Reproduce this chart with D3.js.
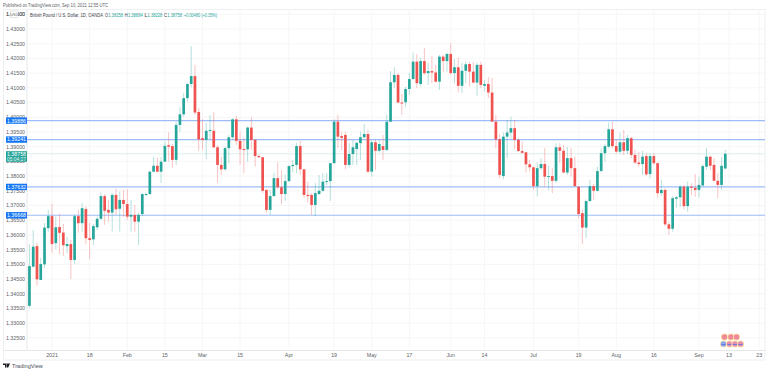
<!DOCTYPE html>
<html><head><meta charset="utf-8">
<script src="https://cdn.jsdelivr.net/npm/d3@7/dist/d3.min.js"></script>
<style>html,body{margin:0;padding:0;background:#fff}svg{display:block}text{font-family:"Liberation Sans",Arial,sans-serif}</style>
</head><body><svg id="c" width="768" height="372"></svg>
<script>
const opens=[1.3460,1.3359,1.3492,1.3562,1.3447,1.3500,1.3623,
1.3664,1.3572,1.3627,1.3608,1.3562,1.3569,1.3515,1.3664,1.3640,1.3688,
1.3589,1.3585,1.3626,1.3655,1.3732,1.3685,1.3676,1.3736,1.3689,1.3719,
1.3705,1.3662,1.3668,1.3645,1.3671,1.3736,1.3739,1.3815,1.3835,1.3815,
1.3849,1.3905,1.3902,1.3855,1.3974,1.4010,1.4065,1.4113,1.4140,1.4018,
1.3929,1.3923,1.3955,1.3954,1.3898,1.3838,1.3823,1.3895,1.3932,1.3993,
1.3920,1.3892,1.3891,1.3965,1.3923,1.3868,1.3864,1.3753,1.3685,1.3732,
1.3793,1.3762,1.3739,1.3783,1.3834,1.3838,1.3902,1.3823,1.3736,1.3736,
1.3702,1.3739,1.3750,1.3780,1.3783,1.3844,1.3985,1.3936,1.3940,1.3838,
1.3875,1.3892,1.3912,1.3932,1.3943,1.3815,1.3915,1.3886,1.3902,1.3889,
1.3985,1.4119,1.4144,1.4050,1.4051,1.4096,1.4130,1.4189,1.4113,1.4191,
1.4150,1.4157,1.4152,1.4121,1.4206,1.4191,1.4215,1.4150,1.4170,1.4107,
1.4158,1.4181,1.4155,1.4118,1.4178,1.4107,1.4113,1.4084,1.3985,1.3925,
1.3800,1.3934,1.3948,1.3963,1.3923,1.3885,1.3881,1.3840,1.3830,1.3766,
1.3827,1.3841,1.3798,1.3800,1.3784,1.3898,1.3886,1.3812,1.3861,1.3827,
1.3764,1.3674,1.3625,1.3715,1.3766,1.3750,1.3817,1.3878,1.3900,1.3959,
1.3902,1.3883,1.3915,1.3886,1.3929,1.3872,1.3846,1.3841,1.3868,1.3807,
1.3868,1.3844,1.3742,1.3753,1.3636,1.3621,1.3723,1.3728,1.3764,1.3698,
1.3764,1.3760,1.3753,1.3768,1.3832,1.3866,1.3838,1.3784,1.3770,1.38258];
const highs=[1.3460,1.3569,1.3617,1.3573,1.3522,1.3641,1.3685,
1.3705,1.3662,1.3671,1.3637,1.3594,1.3583,1.3671,1.3685,1.3709,1.3698,
1.3641,1.3637,1.3662,1.3744,1.3739,1.3719,1.3743,1.3757,1.3748,1.3753,
1.3755,1.3719,1.3702,1.3675,1.3743,1.3745,1.3818,1.3866,1.3862,1.3865,
1.3917,1.3948,1.3909,1.3984,1.4034,1.4083,1.4118,1.4242,1.4178,1.4032,
1.3994,1.3981,1.4007,1.4017,1.3906,1.3866,1.3900,1.3940,1.3997,1.4004,
1.3951,1.3930,1.3968,1.4000,1.3926,1.3874,1.3866,1.3755,1.3753,1.3812,
1.3847,1.3821,1.3804,1.3838,1.3855,1.3912,1.3920,1.3824,1.3781,1.3741,
1.3776,1.3804,1.3810,1.3810,1.3845,1.3993,1.4008,1.3951,1.3951,1.3913,
1.3923,1.3917,1.3951,1.3977,1.3957,1.3923,1.3923,1.3923,1.3940,1.4008,
1.4157,1.4170,1.4150,1.4079,1.4104,1.4151,1.4220,1.4215,1.4202,1.4235,
1.4185,1.4208,1.4178,1.4212,1.4212,1.4220,1.4252,1.4198,1.4203,1.4185,
1.4188,1.4188,1.4187,1.4184,1.4189,1.4127,1.4136,1.4133,1.4008,1.3943,
1.3948,1.3991,1.4002,1.3991,1.3929,1.3917,1.3883,1.3855,1.3832,1.3846,
1.3861,1.3895,1.3834,1.3827,1.3912,1.3912,1.3906,1.3900,1.3895,1.3866,
1.3766,1.3687,1.3721,1.3787,1.3773,1.3832,1.3895,1.3909,1.3982,1.3985,
1.3925,1.3948,1.3957,1.3940,1.3934,1.3889,1.3883,1.3886,1.3878,1.3878,
1.3878,1.3846,1.3787,1.3759,1.3645,1.3732,1.3732,1.3770,1.3770,1.3781,
1.3776,1.3807,1.3798,1.3841,1.3895,1.3868,1.3861,1.3810,1.3865,1.38884];
const lows=[1.3359,1.3353,1.3491,1.3427,1.3447,1.3488,1.3611,
1.3540,1.3552,1.3535,1.3529,1.3539,1.3450,1.3501,1.3607,1.3611,1.3569,
1.3517,1.3566,1.3617,1.3651,1.3634,1.3645,1.3611,1.3668,1.3611,1.3662,
1.3651,1.3611,1.3611,1.3566,1.3664,1.3732,1.3736,1.3814,1.3814,1.3777,
1.3849,1.3849,1.3829,1.3838,1.3951,1.4002,1.4053,1.4102,1.4008,1.3886,
1.3889,1.3858,1.3923,1.3895,1.3778,1.3804,1.3818,1.3844,1.3923,1.3906,
1.3838,1.3810,1.3849,1.3889,1.3832,1.3862,1.3742,1.3674,1.3668,1.3731,
1.3755,1.3705,1.3716,1.3781,1.3812,1.3810,1.3804,1.3725,1.3710,1.3668,
1.3664,1.3736,1.3746,1.3770,1.3716,1.3842,1.3895,1.3889,1.3823,1.3828,
1.3838,1.3838,1.3855,1.3930,1.3811,1.3798,1.3821,1.3880,1.3855,1.3885,
1.3984,1.4099,1.4049,1.4008,1.4036,1.4076,1.4127,1.4099,1.4104,1.4144,
1.4110,1.4116,1.4118,1.4093,1.4155,1.4155,1.4146,1.4116,1.4085,1.4082,
1.4116,1.4104,1.4116,1.4073,1.4099,1.4087,1.4065,1.3984,1.3895,1.3793,
1.3789,1.3861,1.3925,1.3891,1.3883,1.3877,1.3813,1.3815,1.3753,1.3730,
1.3821,1.3764,1.3753,1.3742,1.3776,1.3845,1.3810,1.3804,1.3798,1.3764,
1.3657,1.3569,1.3589,1.3714,1.3719,1.3747,1.3815,1.3849,1.3895,1.3895,
1.3877,1.3877,1.3872,1.3875,1.3861,1.3841,1.3832,1.3804,1.3800,1.3793,
1.3838,1.3727,1.3732,1.3630,1.3600,1.3611,1.3692,1.3695,1.3687,1.3679,
1.3736,1.3730,1.3728,1.3766,1.3821,1.3821,1.3783,1.3725,1.3753,1.38228];
const closes=[1.3359,1.3494,1.3560,1.3449,1.3501,1.3625,1.3664,
1.3569,1.3626,1.3607,1.3565,1.3569,1.3515,1.3664,1.3640,1.3691,1.3589,
1.3583,1.3630,1.3655,1.3732,1.3682,1.3676,1.3736,1.3687,1.3719,1.3705,
1.3662,1.3668,1.3645,1.3668,1.3739,1.3739,1.3815,1.3835,1.3815,1.3849,
1.3903,1.3900,1.3855,1.3974,1.4010,1.4065,1.4113,1.4140,1.4016,1.3925,
1.3923,1.3954,1.3957,1.3898,1.3838,1.3823,1.3895,1.3932,1.3993,1.3920,
1.3891,1.3889,1.3965,1.3923,1.3868,1.3864,1.3750,1.3685,1.3732,1.3793,
1.3762,1.3739,1.3783,1.3834,1.3838,1.3902,1.3823,1.3736,1.3732,1.3702,
1.3742,1.3750,1.3781,1.3783,1.3844,1.3985,1.3934,1.3930,1.3838,1.3875,
1.3898,1.3913,1.3932,1.3943,1.3815,1.3915,1.3886,1.3909,1.3889,1.3985,
1.4119,1.4144,1.4050,1.4049,1.4096,1.4130,1.4189,1.4116,1.4191,1.4150,
1.4157,1.4152,1.4121,1.4206,1.4191,1.4215,1.4150,1.4170,1.4107,1.4158,
1.4180,1.4155,1.4118,1.4178,1.4110,1.4113,1.4084,1.3985,1.3925,1.3804,
1.3934,1.3948,1.3963,1.3923,1.3885,1.3879,1.3840,1.3830,1.3766,1.3827,
1.3841,1.3798,1.3800,1.3784,1.3898,1.3886,1.3812,1.3861,1.3827,1.3766,
1.3671,1.3625,1.3715,1.3766,1.3750,1.3817,1.3878,1.3902,1.3959,1.3902,
1.3883,1.3915,1.3886,1.3929,1.3872,1.3846,1.3841,1.3866,1.3806,1.3868,
1.3844,1.3742,1.3753,1.3636,1.3621,1.3725,1.3728,1.3764,1.3698,1.3764,
1.3760,1.3753,1.3770,1.3834,1.3866,1.3835,1.3784,1.3770,1.3835,1.38758];
const tickBars=[7,17,27,37,47,57,70,82,92,102,113,122,135,147,157,167,179,187,195];
const tickLabels=["2021","18","Feb","15","Mar","15","Apr","19","May","17","Jun","14","Jul","19","Aug","16","Sep","13","23"];
const priceTicks=d3.range(23).map(i=>+(1.325+i*0.005).toFixed(3));
const levels=[1.39886,1.39241,1.37632,1.36668];
const lastPrice=1.38758, countdown="05:04:27";
const titleLine="Published on TradingView.com, Sep 10, 2021 12:55 UTC";
const symbolLine="British Pound / U.S. Dollar, 1D, OANDA";
const legendLabels=["O","H","L","C"];
const legendValues=["1.38258","1.38884","1.38228","1.38758"];
const legendChange="+0.00480 (+0.35%)";

const UP="#26a69a",DOWN="#ef5350",BLUE="#1476f5";
const paneL=27,paneR=765,paneT=9,axisY=350,frameB=359.5;
const x=d3.scaleLinear().domain([0,186]).range([25.7,725.3]);
const y=d3.scaleLinear().domain([1.325,1.43]).range([337.9,29]);
const svg=d3.select("#c");
const defs=svg.append("defs");
defs.append("clipPath").attr("id","pane").append("rect").attr("x",paneL).attr("y",paneT).attr("width",paneR-paneL).attr("height",axisY-paneT);

const fs=5.3, gray="#5c5f66";
svg.append("text").attr("x",3).attr("y",6.8).attr("font-size",fs).attr("fill",gray).attr("textLength",105).attr("lengthAdjust","spacingAndGlyphs").text(titleLine);

// frame
svg.append("rect").attr("x",3.5).attr("y",paneT+.5).attr("width",paneR-3.5).attr("height",frameB-paneT).attr("fill","none").attr("stroke","#eeeff1");
svg.append("line").attr("x1",paneL).attr("x2",paneL).attr("y1",paneT).attr("y2",axisY).attr("stroke","#e6e7ea");
svg.append("line").attr("x1",3.5).attr("x2",paneR).attr("y1",axisY+.5).attr("y2",axisY+.5).attr("stroke","#e6e7ea");

// grid
const pane=svg.append("g").attr("clip-path","url(#pane)");
pane.selectAll("line.h").data(priceTicks).join("line").attr("class","h")
 .attr("x1",paneL).attr("x2",paneR).attr("y1",d=>y(d)).attr("y2",d=>y(d)).attr("stroke","#f6f6f7").attr("stroke-width",1);
pane.selectAll("line.v").data(tickBars).join("line").attr("class","v")
 .attr("y1",paneT).attr("y2",axisY).attr("x1",d=>x(d)).attr("x2",d=>x(d)).attr("stroke","#f6f6f7").attr("stroke-width",1);

// last price + levels
pane.append("line").attr("x1",paneL).attr("x2",paneR).attr("y1",y(lastPrice)).attr("y2",y(lastPrice)).attr("stroke","#d9f1ee").attr("stroke-width",1);
pane.selectAll("line.lv").data(levels).join("line").attr("class","lv")
 .attr("x1",paneL).attr("x2",paneR).attr("y1",d=>y(d)).attr("y2",d=>y(d)).attr("stroke","#9dbcf8").attr("stroke-width",1.1);

// candles
const bars=d3.range(opens.length);
const col=i=>closes[i]>=opens[i]?UP:DOWN;
pane.selectAll("line.w").data(bars).join("line").attr("class","w")
 .attr("x1",i=>x(i)).attr("x2",i=>x(i)).attr("y1",i=>y(highs[i])).attr("y2",i=>y(lows[i]))
 .attr("stroke",col).attr("stroke-opacity",.34).attr("stroke-width",1);
pane.selectAll("rect.b").data(bars).join("rect").attr("class","b")
 .attr("x",i=>x(i)-1.35).attr("width",2.7)
 .attr("y",i=>y(Math.max(opens[i],closes[i])))
 .attr("height",i=>Math.max(1,Math.abs(y(opens[i])-y(closes[i]))))
 .attr("fill",col);

// y axis labels
svg.selectAll("text.yl").data(priceTicks).join("text").attr("class","yl")
 .attr("x",15.5).attr("y",d=>y(d)+1.9).attr("text-anchor","middle").attr("font-size",fs).attr("fill",gray).text(d=>d3.format(".5f")(d));
svg.append("text").attr("x",15.5).attr("y",y(1.435)+1.9).attr("text-anchor","middle").attr("font-size",fs).attr("fill",gray).text("1.43500");
svg.append("rect").attr("x",10.5).attr("y",11).attr("width",7.5).attr("height",6.5).attr("fill","#fff").attr("stroke","#c9cbd0").attr("stroke-width",.5);
svg.append("text").attr("x",14.2).attr("y",15.8).attr("text-anchor","middle").attr("font-size",3.6).attr("fill",gray).text("USD");

// level boxes
levels.forEach(v=>{
 const yy=y(v);
 svg.append("rect").attr("x",6).attr("y",yy-3.2).attr("width",21).attr("height",6.4).attr("fill",BLUE);
 svg.append("text").attr("x",16.5).attr("y",yy+1.9).attr("text-anchor","middle").attr("font-size",fs).attr("fill","#fff").text(d3.format(".5f")(v));
});
const ly=y(lastPrice);
svg.append("rect").attr("x",6).attr("y",ly-2.6).attr("width",21).attr("height",10.6).attr("fill",UP);
svg.append("text").attr("x",16.5).attr("y",ly+1.9).attr("text-anchor","middle").attr("font-size",fs).attr("fill","#fff").text(d3.format(".5f")(lastPrice));
svg.append("text").attr("x",16.5).attr("y",ly+6.8).attr("text-anchor","middle").attr("font-size",fs-.4).attr("fill","#e6f5f3").text(countdown);

// x axis labels
svg.selectAll("text.xl").data(tickBars).join("text").attr("class","xl")
 .attr("x",d=>x(d)).attr("y",357).attr("text-anchor","middle").attr("font-size",fs).attr("fill",gray).text((d,i)=>tickLabels[i]);

// legend: each piece is fitted to the span it takes in the reference
const legendFit=(str,px,len,fill)=>svg.append("text").attr("x",px).attr("y",16.5).attr("font-size",4.6).attr("fill",fill)
 .attr("textLength",len).attr("lengthAdjust","spacingAndGlyphs").text(str);
legendFit(symbolLine,30,73,"#3c4048");
legendLabels.forEach((l,i)=>{
 const px=105+i*19.7;
 legendFit(l,px,3,"#3c4048");
 legendFit(legendValues[i],px+3.2,14.8,UP);
});
legendFit(legendChange,184,33,UP);

// event badges
const badgeRow1=[724.5,731,736.5], badgeRow2=[723.5,729.5,735,740.5];
badgeRow1.forEach(cx=>{
 svg.append("circle").attr("cx",cx).attr("cy",337).attr("r",3.6).attr("fill","#fde9a8");
 svg.append("circle").attr("cx",cx).attr("cy",337).attr("r",2.8).attr("fill","#ee8a9a");
});
badgeRow2.forEach((cx,i)=>{
 svg.append("circle").attr("cx",cx).attr("cy",344).attr("r",3.6).attr("fill","#fde9a8");
 svg.append("circle").attr("cx",cx).attr("cy",344).attr("r",2.8).attr("fill",i===0?"#8fa6ef":"#e88fb0");
 svg.append("rect").attr("x",cx-2).attr("y",344).attr("width",4).attr("height",.9).attr("fill","#5f79e0");
});

// logo
svg.append("text").attr("x",12).attr("y",368).attr("font-size",5.6).attr("fill","#4a4e57").text("TradingView");
svg.append("path").attr("d","M3 363.5h3.6v3.9H5v-2.4H3zM7 363.5h3l-1.8 3.9H7z").attr("fill","#1d1f25");
</script></body></html>
